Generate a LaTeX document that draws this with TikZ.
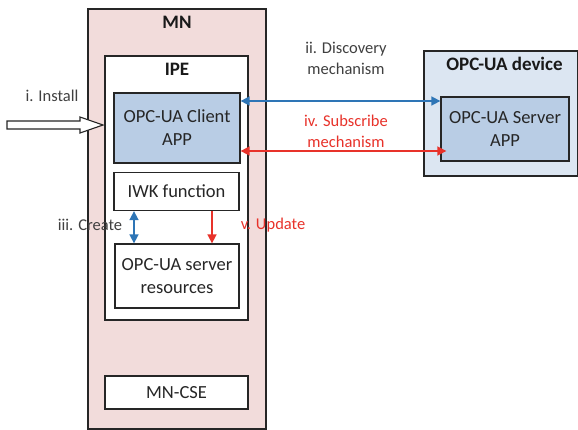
\documentclass[tikz,border=0pt]{standalone}
\usepackage{fontspec}
\setmainfont{Carlito}
\usetikzlibrary{arrows.meta}
\definecolor{mnfill}{HTML}{F2DCDB}
\definecolor{appfill}{HTML}{B9CDE5}
\definecolor{devfill}{HTML}{DCE6F2}
\definecolor{edge}{HTML}{262626}
\definecolor{bluearr}{HTML}{2E75B6}
\definecolor{redarr}{HTML}{E8322A}
\definecolor{lbl}{HTML}{404040}
\tikzset{
  box/.style={draw=edge, line width=1.3pt},
  txt/.style={font=\fontsize{18.5}{23}\selectfont, align=center, text=black!85},
  ttl/.style={font=\fontsize{19}{22}\selectfont\bfseries, text=black!90},
  lab/.style={font=\fontsize{16.5}{21}\selectfont, align=center, text=lbl},
  rlab/.style={font=\fontsize{16.5}{21}\selectfont, align=center, text=redarr},
  barr/.style={draw=bluearr, line width=1.6pt, {Triangle[width=9pt,length=9pt]}-{Triangle[width=9pt,length=9pt]}},
  rarr/.style={draw=redarr, line width=1.6pt, {Triangle[width=9pt,length=9pt]}-{Triangle[width=9pt,length=9pt]}},
}
\begin{document}
\begin{tikzpicture}[x=1pt,y=-1pt]
\useasboundingbox[fill=white] (0,0) rectangle (578,429);
% MN
\path[box, fill=mnfill] (88,9) rectangle (266,429);
\node[ttl] (mn) at (177,22) {MN};
% IPE
\path[box, fill=white] (105,56) rectangle (248,320);
\node[ttl] (ipe) at (177,69) {IPE};
\node[box, fill=appfill, txt, minimum width=126pt, minimum height=70pt, inner sep=0pt] (client) at (177,128) {OPC-UA Client\\APP};
\node[box, fill=white, txt, minimum width=125pt, minimum height=38pt, inner sep=0pt] (iwk) at (176.5,191.5) {IWK function};
\node[box, fill=white, txt, minimum width=124pt, minimum height=64pt, inner sep=0pt] (res) at (177,276) {OPC-UA server\\resources};
\node[box, fill=white, txt, minimum width=143pt, minimum height=33pt, inner sep=0pt] (cse) at (176.5,392.5) {MN-CSE};
% device
\path[box, fill=devfill] (424,51) rectangle (578,176);
\node[ttl] (dev) at (504.5,64) {OPC-UA device};
\node[box, fill=appfill, txt, minimum width=128pt, minimum height=64pt, inner sep=0pt] (server) at (505,129) {OPC-UA Server\\APP};
% install arrow
\coordinate (inst) at (103,125);
\draw[draw=edge, line width=1.1pt, fill=white] (7,121) -- (80,121) -- (80,117) -- (inst) -- (80,133) -- (80,129) -- (7,129) -- cycle;
\node[lab] (linst) at (52,96) {i. Install};
% arrows
\draw[barr] (client.east |- 0,101) -- (server.west |- 0,101);
\draw[rarr] (client.east |- 0,151) -- ([xshift=6pt]server.west |- 0,151);
\node[lab] (ldisc) at (346,58) {ii. Discovery\\mechanism};
\node[rlab] (lsub) at (346,131) {iv. Subscribe\\mechanism};
\draw[barr] (iwk.south -| 134,0) -- (res.north -| 134,0);
\node[lab] (lcre) at (90,225) {iii. Create};
\draw[draw=redarr, line width=1.6pt, -{Triangle[width=9pt,length=9pt]}] (iwk.south -| 212,0) -- (res.north -| 212,0);
\node[rlab] (lupd) at (273,225) {v. Update};
\end{tikzpicture}
\end{document}
